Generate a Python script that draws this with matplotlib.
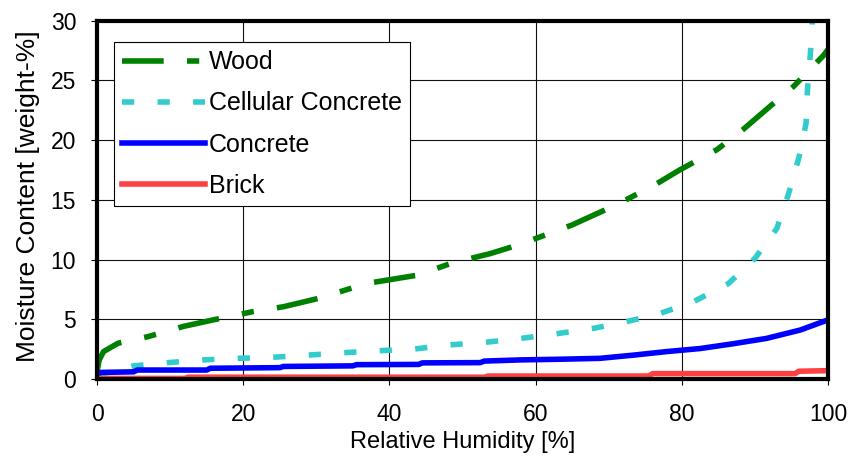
import matplotlib.pyplot as plt

plt.rcParams['font.family'] = ['Liberation Sans', 'DejaVu Sans']

rh_wood = [0, 0.3, 0.9, 2.9, 7.0, 11.8, 15.9, 21.4, 25.5, 30.3, 36.9, 43.9, 48.5,
           53.8, 58, 65, 71.1, 76.3, 79.7, 84.8, 88.4, 92.3, 95.3, 99.4, 100]
wood = [0.6, 1.6, 2.3, 3.0, 3.55, 4.4, 4.95, 5.65, 6.05, 6.75, 8.0, 8.7, 9.7,
        10.5, 11.3, 12.9, 14.6, 16.25, 17.5, 19.2, 20.9, 22.95, 24.5, 27.1, 27.6]

rh_cell = [0, 5, 9.7, 14.5, 19.3, 24.1, 28.9, 33.7, 38.5, 43.3, 48.1, 53.1, 58,
           63, 68, 72, 76.8, 81.6, 86.4, 90, 93, 94.6, 96, 97, 97.2, 97.6, 97.9]
cellular = [0.3, 1.1, 1.37, 1.6, 1.73, 1.82, 2.0, 2.2, 2.37, 2.5, 2.85, 3.07, 3.4,
            3.8, 4.25, 4.74, 5.44, 6.47, 8.0, 10.1, 12.6, 15.5, 18.5, 21.4, 24.3, 27.3, 30.5]

rh_conc = [0, 0.5, 5, 5.5, 15, 15.5, 25, 25.5, 35, 35.5, 44, 44.5, 52.4, 53, 58, 63,
           68.8, 73.4, 78, 82.5, 87, 91.6, 96.2, 100]
concrete = [0.3, 0.55, 0.6, 0.75, 0.75, 0.9, 0.95, 1.05, 1.1, 1.2, 1.22, 1.35, 1.37,
            1.5, 1.6, 1.65, 1.73, 2.0, 2.3, 2.55, 2.95, 3.4, 4.1, 4.95]

rh_brick = [0, 12, 12.5, 53, 53.5, 75.5, 76, 95.5, 96, 100]
brick = [0.05, 0.05, 0.15, 0.15, 0.25, 0.25, 0.45, 0.45, 0.65, 0.7]

fig = plt.figure(figsize=(8.52, 4.59), dpi=100)
ax = fig.add_axes([97/852, 1-379/459, 731/852, 358.3/459])

lw = 4
ax.plot(rh_wood, wood, color='#008000', lw=lw, ls=(0, (7.5, 4.2, 2.2, 4.2)), label='Wood')
ax.plot(rh_cell, cellular, color='#33CCCC', lw=lw, ls=(0, (2.2, 4.2)), label='Cellular Concrete')
ax.plot(rh_conc, concrete, color='#0000FF', lw=lw, label='Concrete')
ax.plot(rh_brick, brick, color='#FF4040', lw=lw, label='Brick')

ax.set_xlim(0, 100)
ax.set_ylim(0, 30)
ax.set_xticks(range(0, 101, 20))
ax.set_yticks(range(0, 31, 5))
ax.grid(True, color='#111111', lw=0.8)
ax.set_axisbelow(True)
for s in ax.spines.values():
    s.set_linewidth(3)
ax.tick_params(labelsize=16.5, direction='out', length=4, width=0.8)
ax.tick_params(axis='x', pad=13)
ax.tick_params(axis='y', pad=11)
ax.set_xlabel('Relative Humidity [%]', fontsize=17, labelpad=4)
ax.set_ylabel('Moisture Content [weight-%]', fontsize=19)
ax.yaxis.set_label_coords(-0.078, 0.51)

leg = ax.legend(loc='upper left', bbox_to_anchor=(114/852, 1-42/459),
                bbox_transform=fig.transFigure, fontsize=18, fancybox=False,
                framealpha=1, edgecolor='black', handlelength=3.3,
                handletextpad=0.16, labelspacing=0.69, borderpad=0.33,
                borderaxespad=0)
leg.get_frame().set_linewidth(0.8)

fig.savefig('out.png', dpi=100)
